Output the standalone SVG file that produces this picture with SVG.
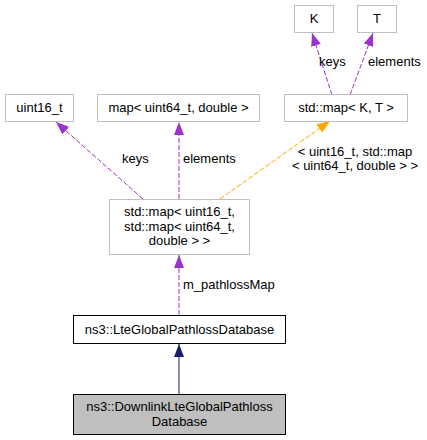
<svg xmlns="http://www.w3.org/2000/svg" width="427" height="440" viewBox="0 0 427 440">
<defs>
<style>
text{font-family:"Liberation Sans",Arial,sans-serif;font-size:13px;fill:#000}
.m{text-anchor:middle}
.ext{fill:#fff;stroke:#bfbfbf;stroke-width:1}
.base{fill:#fff;stroke:#000;stroke-width:1}
.cur{fill:#bfbfbf;stroke:#000;stroke-width:1}
.p{stroke:#9a32cd;stroke-width:1;stroke-dasharray:5,2;fill:none}
.o{stroke:#ffa500;stroke-width:1;stroke-dasharray:5,2;fill:none}
.n{stroke:#191970;stroke-width:1;fill:none}
</style>
<marker id="ap" viewBox="0 0 13 10" refX="13" refY="5" markerWidth="13" markerHeight="10" markerUnits="userSpaceOnUse" orient="auto"><path d="M0,0 L13,5 L0,10 Z" fill="#9a32cd"/></marker>
<marker id="ao" viewBox="0 0 13 10" refX="13" refY="5" markerWidth="13" markerHeight="10" markerUnits="userSpaceOnUse" orient="auto"><path d="M0,0 L13,5 L0,10 Z" fill="#ffa500"/></marker>
<marker id="an" viewBox="0 0 13 10" refX="13" refY="5" markerWidth="13" markerHeight="10" markerUnits="userSpaceOnUse" orient="auto"><path d="M0,0 L13,5 L0,10 Z" fill="#191970"/></marker>
</defs>
<rect width="427" height="440" fill="#fff"/>
<g id="connectors">
<line class="n" x1="179" y1="394" x2="179" y2="344" marker-end="url(#an)"/>
<line class="p" x1="179" y1="315" x2="179" y2="255" marker-end="url(#ap)"/>
<text x="183" y="289">m_pathlossMap</text>
<line class="p" x1="143" y1="199" x2="56" y2="122" marker-end="url(#ap)"/>
<text x="122" y="163">keys</text>
<line class="p" x1="179" y1="199" x2="179" y2="122" marker-end="url(#ap)"/>
<text x="183" y="163">elements</text>
<line class="o" x1="220" y1="199" x2="330" y2="121" marker-end="url(#ao)"/>
<text class="m" x="355" y="156">&lt; uint16_t, std::map</text>
<text class="m" x="355" y="170">&lt; uint64_t, double &gt; &gt;</text>
<line class="p" x1="332" y1="95" x2="312" y2="33" marker-end="url(#ap)"/>
<text x="319" y="66">keys</text>
<line class="p" x1="350" y1="95" x2="373" y2="33" marker-end="url(#ap)"/>
<text x="368" y="66">elements</text>
</g>
<g id="node-uint16">
<rect class="ext" x="5.5" y="94.5" width="68" height="27"/>
<text class="m" x="39.5" y="112">uint16_t</text>
</g>
<g id="node-map64">
<rect class="ext" x="97.5" y="94.5" width="162" height="27"/>
<text class="m" x="178.5" y="112">map&lt; uint64_t, double &gt;</text>
</g>
<g id="node-K">
<rect class="ext" x="294.5" y="5.5" width="39" height="27"/>
<text class="m" x="314" y="23">K</text>
</g>
<g id="node-T">
<rect class="ext" x="357.5" y="5.5" width="39" height="27"/>
<text class="m" x="377" y="23">T</text>
</g>
<g id="node-mapKT">
<rect class="ext" x="284.5" y="94.5" width="123" height="27"/>
<text class="m" x="346" y="112">std::map&lt; K, T &gt;</text>
</g>
<g id="node-map16">
<rect class="ext" x="109.5" y="199.5" width="140" height="55"/>
<text class="m" x="179.5" y="216">std::map&lt; uint16_t,</text>
<text class="m" x="179.5" y="231">std::map&lt; uint64_t,</text>
<text class="m" x="179.5" y="245">double &gt; &gt;</text>
</g>
<g id="node-lte">
<rect class="base" x="73.5" y="315.5" width="212" height="28"/>
<text class="m" x="179.5" y="333.5">ns3::LteGlobalPathlossDatabase</text>
</g>
<g id="node-downlink">
<rect class="cur" x="73.5" y="394.5" width="212" height="40"/>
<text class="m" x="179.5" y="411">ns3::DownlinkLteGlobalPathloss</text>
<text class="m" x="179.5" y="426">Database</text>
</g>
</svg>
